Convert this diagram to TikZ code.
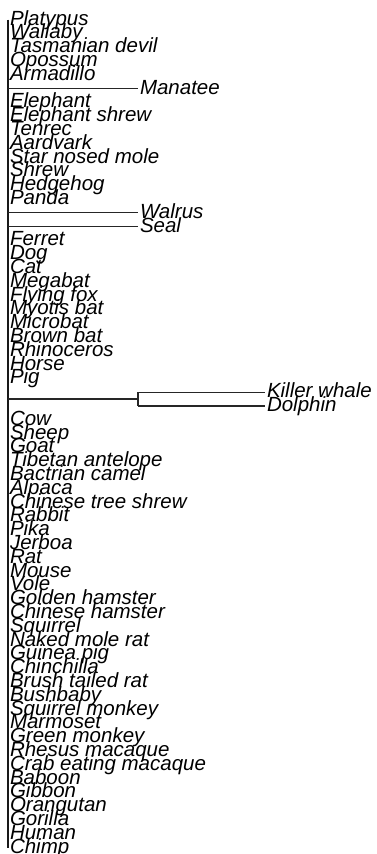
\documentclass[tikz,border=0pt]{standalone}
\usepackage{fontspec}
\setmainfont{Liberation Sans}
\usetikzlibrary{calc}
\tikzset{
  branch/.style={draw=black!85, line width=1.2pt},
  spine/.style={draw=black!90, line width=1.5pt},
  tiplabel/.style={anchor=base west, inner sep=0pt, outer sep=0pt,
    font=\fontsize{20.5}{20.5}\selectfont\itshape}
}
\begin{document}
\begin{tikzpicture}[x=1pt,y=1pt]
\useasboundingbox (0,0) rectangle (376,-854);
\foreach \nm/\xx [count=\i] in {
Platypus/8, Wallaby/8, Tasmanian devil/8, Opossum/8, Armadillo/8,
Manatee/138, Elephant/8, Elephant shrew/8, Tenrec/8, Aardvark/8,
Star nosed mole/8, Shrew/8, Hedgehog/8, Panda/8, Walrus/138,
Seal/138, Ferret/8, Dog/8, Cat/8, Megabat/8,
Flying fox/8, Myotis bat/8, Microbat/8, Brown bat/8, Rhinoceros/8,
Horse/8, Pig/8, Killer whale/265, Dolphin/265, Cow/8,
Sheep/8, Goat/8, Tibetan antelope/8, Bactrian camel/8, Alpaca/8,
Chinese tree shrew/8, Rabbit/8, Pika/8, Jerboa/8, Rat/8,
Mouse/8, Vole/8, Golden hamster/8, Chinese hamster/8, Squirrel/8,
Naked mole rat/8, Guinea pig/8, Chinchilla/8, Brush tailed rat/8, Bushbaby/8,
Squirrel monkey/8, Marmoset/8, Green monkey/8, Rhesus macaque/8, Crab eating macaque/8,
Baboon/8, Gibbon/8, Orangutan/8, Gorilla/8, Human/8, Chimp/8}{
  \pgfmathsetmacro{\yy}{19.5+(\i-1)*13.8}
  \coordinate (t\i) at (\xx,-\yy);
  \node[tiplabel] (n\i) at (\xx+2,-\yy-5.5) {\nm};
}
% root spine
\draw[spine] (t1) -- (t61);
% Manatee, Walrus, Seal
\draw[branch] (t1 |- t6) -- (t6);
\draw[branch] (t1 |- t15) -- (t15);
\draw[branch] (t1 |- t16) -- (t16);
% Killer whale + Dolphin clade
\coordinate (c) at (138,0);
\coordinate (cm) at ($(t28)!0.5!(t29)$);
\coordinate (cc) at (c |- cm);
\draw[branch] (t1 |- cc) -- (cc);
\draw[branch] (cc |- t28) -- (cc |- t29);
\draw[branch] (cc |- t28) -- (t28);
\draw[branch] (cc |- t29) -- (t29);
\end{tikzpicture}
\end{document}
